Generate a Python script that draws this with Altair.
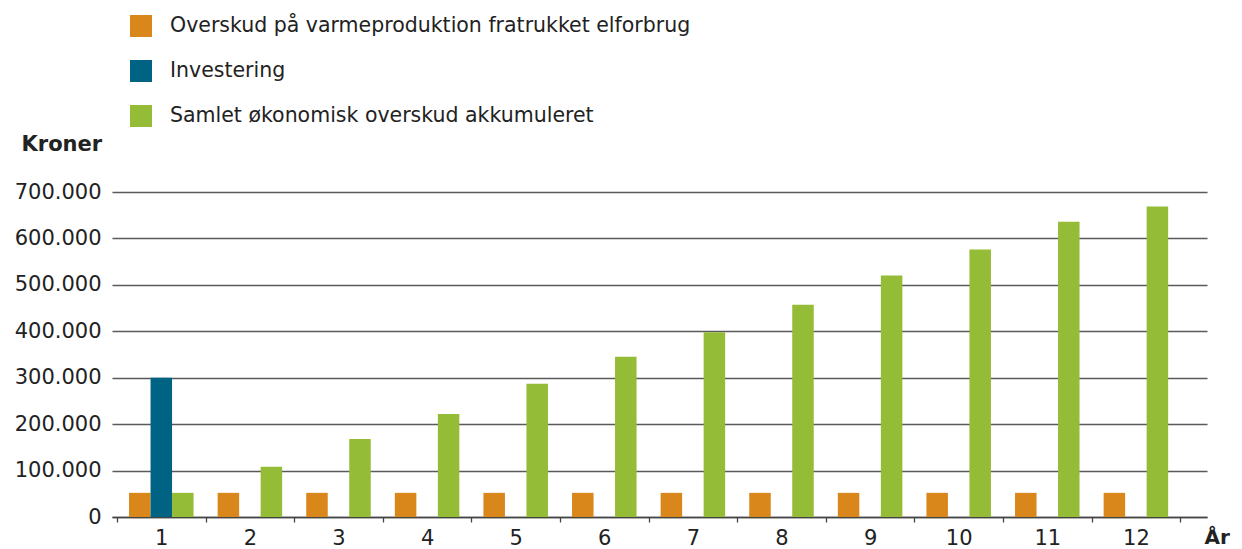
import altair as alt
import pandas as pd

years = list(range(1, 13))
series_names = [
    "Overskud på varmeproduktion fratrukket elforbrug",
    "Investering",
    "Samlet økonomisk overskud akkumuleret",
]
colors = ["#D9861A", "#006383", "#94BC36"]

overskud = [52000] * 12
investering = [300000]  # only year 1
samlet = [52000, 108000, 168000, 222000, 287000, 345000, 398000, 457000, 520000, 576000, 636000, 669000]

rows = []
for i, y in enumerate(years):
    rows.append({"År": y, "Serie": series_names[0], "Kroner": overskud[i]})
    if i < len(investering):
        rows.append({"År": y, "Serie": series_names[1], "Kroner": investering[i]})
    rows.append({"År": y, "Serie": series_names[2], "Kroner": samlet[i]})
df = pd.DataFrame(rows)

FONT = "DejaVu Sans"
TXT = "#222222"

chart = alt.Chart(df).mark_bar().encode(
    x=alt.X(
        "År:O",
        scale=alt.Scale(paddingInner=0, paddingOuter=0.1795, align=0.157, round=False),
        axis=alt.Axis(
            title="År",
            titleX=1092, titleY=20, titleAlign="left", titleBaseline="middle",
            titleAngle=0, titleFontSize=20, titleFontWeight="bold", titleColor=TXT, titleFont=FONT,
            labelAngle=0, labelFontSize=21, labelColor=TXT, labelFont=FONT, labelPadding=5,
            tickBand="extent", tickSize=5, tickColor="#444444", tickWidth=1.3,
            domainColor="#444444", domainWidth=1.5, grid=False,
        ),
    ),
    xOffset=alt.XOffset("Serie:N", sort=series_names,
                        scale=alt.Scale(domain=series_names, paddingInner=0, paddingOuter=0.56)),
    y=alt.Y(
        "Kroner:Q",
        scale=alt.Scale(domain=[0, 700000], nice=False),
        axis=alt.Axis(
            title="Kroner",
            titleX=-91, titleY=-48, titleAlign="left", titleBaseline="middle", titleAngle=0,
            titleFontSize=21, titleFontWeight="bold", titleColor=TXT, titleFont=FONT,
            values=[0, 100000, 200000, 300000, 400000, 500000, 600000, 700000],
            labelExpr="replace(format(datum.value, ','), ',', '.')",
            labelFontSize=21, labelColor=TXT, labelFont=FONT, labelPadding=11,
            ticks=False, domain=False,
            grid=True, gridColor="#5a5a5a", gridWidth=1.3,
        ),
    ),
    color=alt.Color(
        "Serie:N",
        sort=series_names,
        scale=alt.Scale(domain=series_names, range=colors),
        legend=alt.Legend(
            title=None, orient="none", legendX=18, legendY=-177, direction="vertical",
            symbolType="square", symbolSize=484, symbolStrokeWidth=0, symbolOpacity=1,
            labelFontSize=20.5, labelColor=TXT, labelFont=FONT, labelOffset=18,
            rowPadding=23, labelLimit=800,
        ),
    ),
).properties(
    width=1095, height=325,
    autosize=alt.AutoSizeParams(type="none"),
    padding={"left": 104, "top": 184, "right": 27, "bottom": 32},
).configure_view(stroke=None)

chart.save("out.html", embed_options={"renderer": "svg", "actions": False})
